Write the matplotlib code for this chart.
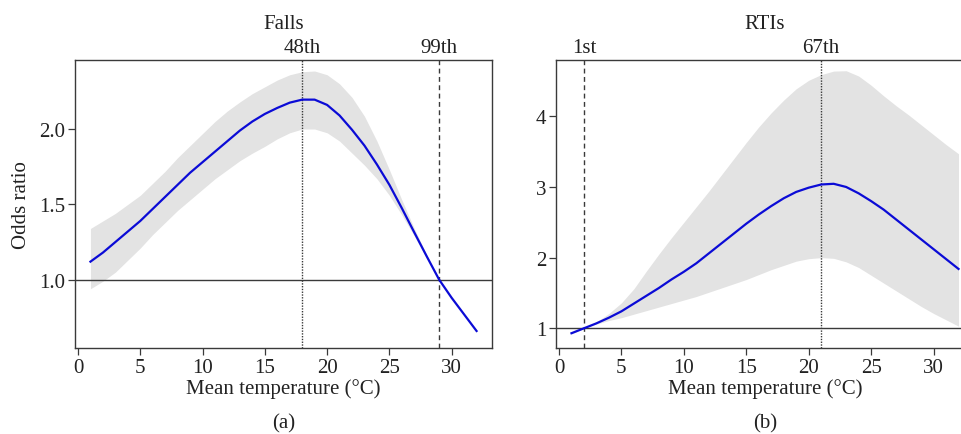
import numpy as np
import matplotlib
matplotlib.use("Agg")
import matplotlib.pyplot as plt
from matplotlib import transforms

plt.rcParams["font.family"] = ["Liberation Serif", "DejaVu Serif"]
plt.rcParams["font.size"] = 15

# ------------ data ------------
temp = list(range(1, 33))

falls_or = [1.12, 1.18, 1.25, 1.32, 1.39, 1.47, 1.55, 1.63, 1.71, 1.78,
            1.85, 1.92, 1.99, 2.05, 2.10, 2.14, 2.175, 2.195, 2.195, 2.16,
            2.09, 1.995, 1.89, 1.765, 1.63, 1.475, 1.314, 1.155, 1.00, 0.88,
            0.77, 0.66]
falls_hi = [1.34, 1.39, 1.44, 1.50, 1.56, 1.64, 1.72, 1.81, 1.89, 1.97,
            2.05, 2.12, 2.18, 2.235, 2.28, 2.325, 2.36, 2.38, 2.385, 2.36,
            2.30, 2.21, 2.085, 1.92, 1.73, 1.53, 1.34, 1.165, 1.00, 0.885,
            0.775, 0.665]
falls_lo = [0.94, 0.99, 1.05, 1.13, 1.21, 1.30, 1.38, 1.46, 1.53, 1.60,
            1.67, 1.73, 1.79, 1.84, 1.885, 1.935, 1.975, 2.00, 2.00, 1.975,
            1.92, 1.84, 1.76, 1.67, 1.56, 1.43, 1.29, 1.145, 1.00, 0.875,
            0.765, 0.655]

rti_or = [0.93, 1.00, 1.07, 1.15, 1.24, 1.35, 1.46, 1.57, 1.69, 1.80,
          1.92, 2.06, 2.20, 2.34, 2.48, 2.61, 2.73, 2.84, 2.93, 2.99,
          3.035, 3.045, 3.00, 2.91, 2.80, 2.68, 2.54, 2.40, 2.26, 2.12,
          1.98, 1.84]
rti_hi = [0.94, 1.00, 1.09, 1.21, 1.36, 1.56, 1.81, 2.05, 2.28, 2.50,
          2.72, 2.94, 3.17, 3.40, 3.63, 3.85, 4.05, 4.23, 4.39, 4.51,
          4.59, 4.64, 4.645, 4.57, 4.44, 4.29, 4.15, 4.02, 3.88, 3.74,
          3.60, 3.47]
rti_lo = [0.92, 1.00, 1.06, 1.11, 1.15, 1.20, 1.25, 1.30, 1.35, 1.40,
          1.45, 1.51, 1.57, 1.63, 1.69, 1.76, 1.83, 1.89, 1.95, 1.985,
          2.00, 1.99, 1.94, 1.86, 1.75, 1.64, 1.53, 1.42, 1.31, 1.21,
          1.12, 1.03]

# percentile cut-offs: (temperature, label, linestyle)
falls_marks = [(18, "48th", ":"), (29, "99th", "--")]
rti_marks = [(2, "1st", "--"), (21, "67th", ":")]

W, H = 961, 435
fig = plt.figure(figsize=(W / 100, H / 100), dpi=100)

EDGE = "#3a3a3a"
TXT = "#222222"


def panel(left, right, ylim, yticks, yfmt, x, y, lo, hi, marks, title, tag):
    ax = fig.add_axes([left / W, 1 - 349 / H, (right - left) / W, (349 - 61) / H])
    ax.fill_between(x, lo, hi, color="#e3e3e3", lw=0)
    ax.axhline(1, color=EDGE, lw=1.0)
    for xv, lab, ls in marks:
        ax.axvline(xv, color=EDGE, lw=1.0, ls=ls,
                   dashes=(1, 1.0) if ls == ":" else (3.5, 2.5))
    ax.plot(x, y, color="#0b0bd6", lw=1.6)
    ax.set_xlim(-0.24, 33.24)
    ax.set_ylim(*ylim)
    ax.set_xticks([0, 5, 10, 15, 20, 25, 30])
    ax.set_yticks(yticks)
    ax.set_yticklabels([yfmt.format(v) for v in yticks])
    for s in ax.spines.values():
        s.set_color(EDGE)
        s.set_linewidth(1.0)
    ax.tick_params(direction="out", length=5, width=0.9, color=EDGE,
                   labelcolor=TXT, labelsize=15, pad=2)
    ax.set_xlabel("Mean temperature (\u00b0C)", fontsize=15, color=TXT, labelpad=1)
    trans = transforms.blended_transform_factory(ax.transData, ax.transAxes)
    for xv, lab, ls in marks:
        ax.text(xv, 1.01, lab, transform=trans, ha="center", va="bottom",
                fontsize=15, color=TXT)
    ax.set_title(title, fontsize=15, color=TXT, pad=23)
    fig.text((left + right) / 2 / W, 1 - 424 / H, tag, ha="center", va="center",
             fontsize=15, color=TXT)
    return ax


ax1 = panel(75, 492, (0.547, 2.458), [1.0, 1.5, 2.0], "{:.1f}",
            temp, falls_or, falls_lo, falls_hi, falls_marks, "Falls", "(a)")
ax1.set_ylabel("Odds ratio", fontsize=15, color=TXT, labelpad=6)

ax2 = panel(556, 974, (0.721, 4.797), [1, 2, 3, 4], "{:d}",
            temp, rti_or, rti_lo, rti_hi, rti_marks, "RTIs", "(b)")

fig.savefig("out.png", dpi=100)
